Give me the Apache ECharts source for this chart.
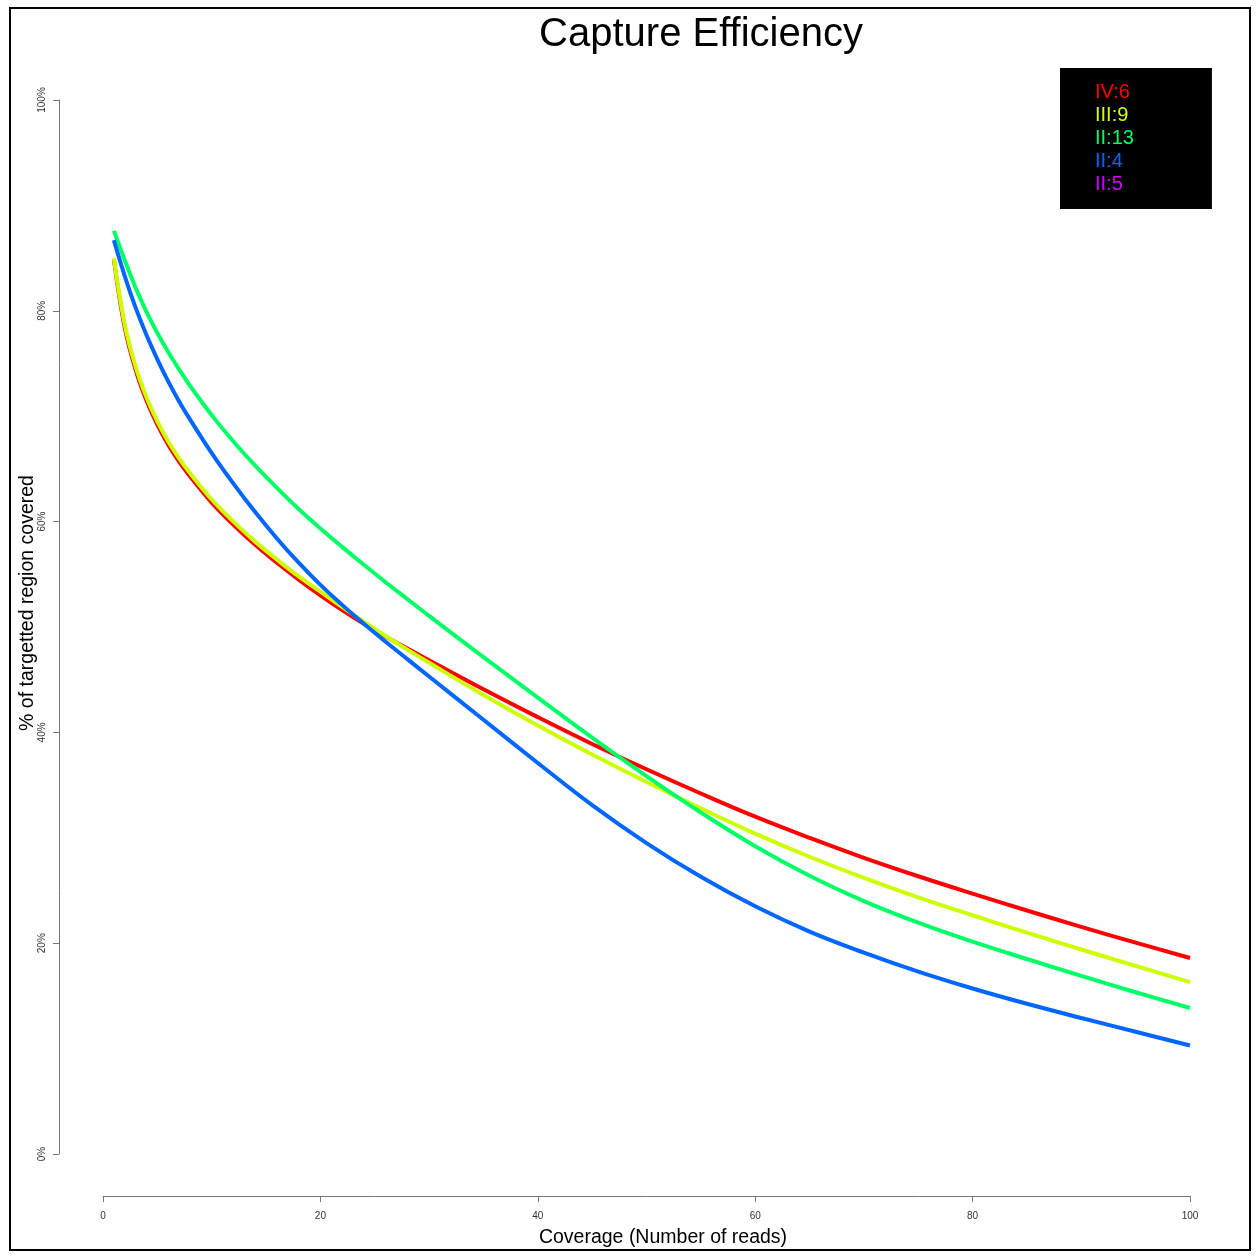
<!DOCTYPE html>
<html>
<head>
<meta charset="utf-8">
<title>Capture Efficiency</title>
<script src="https://cdn.jsdelivr.net/npm/echarts@6/dist/echarts.min.js"></script>
<style>
  html, body { margin: 0; padding: 0; background: #fff; }
  #chart { width: 1259px; height: 1256px; }
</style>
</head>
<body>
<div id="chart"></div>
<script>
// coverage depth (number of reads)
const coverage = [1, 2, 3, 4, 5, 6, 7, 8, 10, 12, 14, 16, 18, 20, 22, 24, 26, 28, 30, 35, 40, 45, 50, 55, 60, 65, 70, 75, 80, 85, 90, 95, 100]

// % of targetted region covered, per sample
const iv6 = [84.9, 78.4, 74.4, 71.5, 69.2, 67.3, 65.7, 64.3, 61.8, 59.7, 57.8, 56.1, 54.5, 53.0, 51.6, 50.3, 49.1, 47.95, 46.85, 44.1, 41.45, 38.9, 36.5, 34.2, 32.0, 30.0, 28.1, 26.35, 24.7, 23.1, 21.55, 20.05, 18.6]
const iii9 = [85.0, 78.7, 74.7, 71.8, 69.5, 67.6, 66.0, 64.6, 62.1, 60.0, 58.1, 56.4, 54.8, 53.35, 51.9, 50.5, 49.15, 47.85, 46.6, 43.55, 40.65, 37.9, 35.3, 32.8, 30.4, 28.2, 26.2, 24.35, 22.65, 21.0, 19.4, 17.85, 16.3]
const ii13 = [87.6, 84.8, 82.2, 79.9, 77.9, 76.1, 74.45, 72.9, 70.1, 67.6, 65.3, 63.2, 61.2, 59.35, 57.6, 55.9, 54.25, 52.65, 51.05, 47.15, 43.3, 39.5, 35.85, 32.4, 29.2, 26.4, 24.0, 21.95, 20.15, 18.5, 16.9, 15.35, 13.85]
const ii4 = [86.7, 83.3, 80.3, 77.7, 75.4, 73.3, 71.4, 69.7, 66.5, 63.6, 60.9, 58.4, 56.1, 54.0, 52.1, 50.3, 48.6, 46.95, 45.3, 41.2, 37.1, 33.1, 29.5, 26.3, 23.5, 21.1, 19.1, 17.3, 15.7, 14.25, 12.9, 11.6, 10.3]
const ii5 = []   // listed in the legend, no curve drawn

const seriesNames = ['IV:6', 'III:9', 'II:13', 'II:4', 'II:5']
const seriesData = [iv6, iii9, ii13, ii4, ii5]
const colors = ['#FF0000', '#CCFF00', '#00FF66', '#0066FF', '#CC00FF']

// stray point plotted at (1, 0)
const strayPoint = [[1, 0]]

const chart = echarts.init(document.getElementById('chart'))

const lineSeries = seriesNames.map((name, i) => ({
  name,
  type: 'line',
  data: seriesData[i].map((v, j) => [coverage[j], v]),
  showSymbol: false,
  smooth: 0.4,
  lineStyle: { width: 4, color: colors[i] },
  itemStyle: { color: colors[i] },
  z: 3,
}))

chart.setOption({
  animation: false,
  textStyle: { fontFamily: 'Liberation Sans, Arial, sans-serif' },
  title: {
    text: 'Capture Efficiency',
    left: 696,
    top: 10,
    textAlign: 'center',
    textStyle: { fontSize: 40, fontWeight: 'normal', color: '#000' },
  },
  legend: {
    orient: 'vertical',
    left: 1060,
    top: 68,
    padding: [14, 78, 15, 30],
    backgroundColor: '#000',
    icon: 'none',
    itemWidth: 0,
    itemHeight: 20,
    itemGap: 3,
    selectedMode: false,
    data: seriesNames.map((name, i) => ({
      name,
      textStyle: { color: colors[i], fontSize: 20 },
    })),
  },
  grid: { left: 103, right: 69, top: 100, bottom: 102, outerBoundsMode: 'none' },
  xAxis: {
    type: 'value',
    min: 0, max: 100, interval: 20,
    offset: 42,
    name: 'Coverage (Number of reads)',
    nameLocation: 'middle',
    nameGap: 32,
    nameTextStyle: { fontSize: 19.5, color: '#000', padding: [0, 0, 0, 33] },
    axisLine: { show: true, onZero: false, lineStyle: { color: '#777', width: 1 } },
    axisTick: { show: true, length: 6, lineStyle: { color: '#777' } },
    axisLabel: { fontSize: 10, color: '#333', margin: 15 },
    splitLine: { show: false },
  },
  yAxis: {
    type: 'value',
    min: 0, max: 100, interval: 20,
    offset: 44,
    name: '% of targetted region covered',
    nameLocation: 'middle',
    nameGap: 21,
    nameRotate: 90,
    nameMoveOverlap: false,
    nameTextStyle: { fontSize: 19.5, color: '#000', padding: [0, 0, 0, 48] },
    axisLine: { show: true, onZero: false, lineStyle: { color: '#777', width: 1 } },
    axisTick: { show: true, length: 6, lineStyle: { color: '#777' } },
    axisLabel: { fontSize: 10, color: '#333', rotate: 90, margin: 12, formatter: '{value}%' },
    splitLine: { show: false },
  },
  graphic: [{
    type: 'rect',
    shape: { x: 10, y: 8, width: 1240, height: 1242 },
    style: { fill: 'none', stroke: '#000', lineWidth: 2 },
    silent: true,
  }],
  series: [
    ...lineSeries,
    {
      type: 'scatter',
      data: strayPoint,
      symbol: 'emptyCircle',
      symbolSize: 5,
      itemStyle: { color: '#fff', borderColor: '#555', borderWidth: 1 },
      z: 2,
    },
  ],
})
</script>
</body>
</html>
